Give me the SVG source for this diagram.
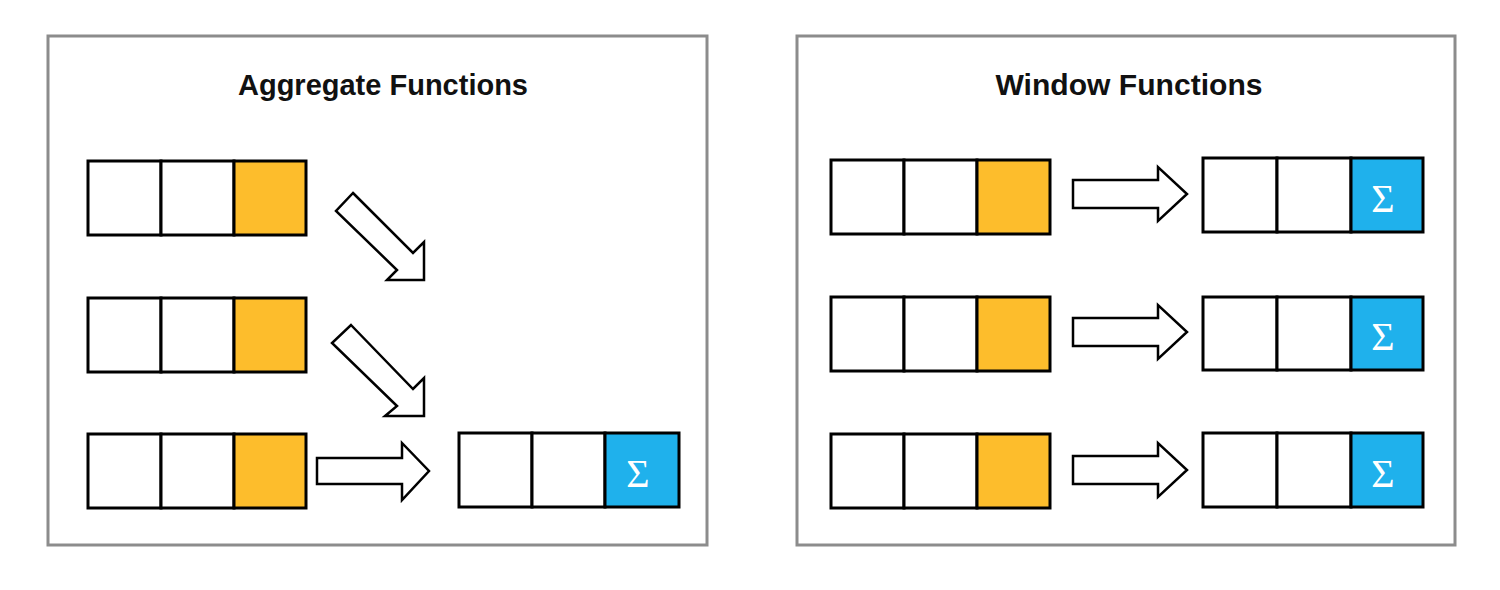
<svg xmlns="http://www.w3.org/2000/svg" width="1500" height="590" viewBox="0 0 1500 590">
<style>
.panel{fill:#fff;stroke:#8c8c8c;stroke-width:3}
.title{font-family:"Liberation Sans",Arial,sans-serif;font-weight:bold;font-size:29px;fill:#111;text-anchor:middle}
.cell{fill:#fff;stroke:#000;stroke-width:3}
.y{fill:#fdbd2c}
.b{fill:#1fb1ec}
.sig{font-family:"Liberation Serif","DejaVu Serif",serif;font-size:40px;fill:#fff;text-anchor:middle}
.arr{fill:#fff;stroke:#000;stroke-width:2.5;stroke-linejoin:miter}
</style>
<rect width="1500" height="590" fill="#fff"/>
<g id="panel-aggregate">
<rect class="panel" x="48" y="36" width="659" height="509"/>
<text class="title" x="383" y="95" textLength="290" lengthAdjust="spacingAndGlyphs">Aggregate Functions</text>
</g>
<g id="panel-window">
<rect class="panel" x="797" y="36" width="658" height="509"/>
<text class="title" x="1129" y="95" textLength="267" lengthAdjust="spacingAndGlyphs">Window Functions</text>
</g>
<g id="agg-row1">
<rect class="cell" x="88" y="161" width="73" height="74"/>
<rect class="cell" x="161" y="161" width="73" height="74"/>
<rect class="cell y" x="234" y="161" width="72" height="74"/>
</g>
<g id="agg-row2">
<rect class="cell" x="88" y="298" width="73" height="74"/>
<rect class="cell" x="161" y="298" width="73" height="74"/>
<rect class="cell y" x="234" y="298" width="72" height="74"/>
</g>
<g id="agg-row3">
<rect class="cell" x="88" y="434" width="73" height="74"/>
<rect class="cell" x="161" y="434" width="73" height="74"/>
<rect class="cell y" x="234" y="434" width="72" height="74"/>
</g>
<g id="agg-result">
<rect class="cell" x="459" y="433" width="73" height="74"/>
<rect class="cell" x="532" y="433" width="73" height="74"/>
<rect class="cell b" x="605" y="433" width="74" height="74"/>
<text class="sig" x="638" y="487">Σ</text>
</g>
<g id="win-row1-src">
<rect class="cell" x="831" y="160" width="73" height="74"/>
<rect class="cell" x="904" y="160" width="73" height="74"/>
<rect class="cell y" x="977" y="160" width="73" height="74"/>
</g>
<g id="win-row1-out">
<rect class="cell" x="1203" y="158" width="74" height="74"/>
<rect class="cell" x="1277" y="158" width="74" height="74"/>
<rect class="cell b" x="1351" y="158" width="72" height="74"/>
<text class="sig" x="1383" y="212">Σ</text>
</g>
<g id="win-row2-src">
<rect class="cell" x="831" y="297" width="73" height="74"/>
<rect class="cell" x="904" y="297" width="73" height="74"/>
<rect class="cell y" x="977" y="297" width="73" height="74"/>
</g>
<g id="win-row2-out">
<rect class="cell" x="1203" y="297" width="74" height="73"/>
<rect class="cell" x="1277" y="297" width="74" height="73"/>
<rect class="cell b" x="1351" y="297" width="72" height="73"/>
<text class="sig" x="1383" y="350">Σ</text>
</g>
<g id="win-row3-src">
<rect class="cell" x="831" y="434" width="73" height="74"/>
<rect class="cell" x="904" y="434" width="73" height="74"/>
<rect class="cell y" x="977" y="434" width="73" height="74"/>
</g>
<g id="win-row3-out">
<rect class="cell" x="1203" y="433" width="74" height="74"/>
<rect class="cell" x="1277" y="433" width="74" height="74"/>
<rect class="cell b" x="1351" y="433" width="72" height="74"/>
<text class="sig" x="1383" y="487">Σ</text>
</g>
<g id="connectors">
<polygon class="arr" points="353,193 413,253 424,242 424,280 387,280 397,270 336,211"/>
<polygon class="arr" points="351,325 413,389 424,378 424,416 385,416 397,406 332,343"/>
<polygon class="arr" points="317,458 402,458 402,443 429,471 402,500 402,484 317,484"/>
<polygon class="arr" points="1073,180 1158,180 1158,167 1187,194 1158,221 1158,208 1073,208"/>
<polygon class="arr" points="1073,318 1158,318 1158,305 1187,332 1158,359 1158,346 1073,346"/>
<polygon class="arr" points="1073,456 1158,456 1158,443 1187,470 1158,497 1158,484 1073,484"/>
</g>
</svg>
